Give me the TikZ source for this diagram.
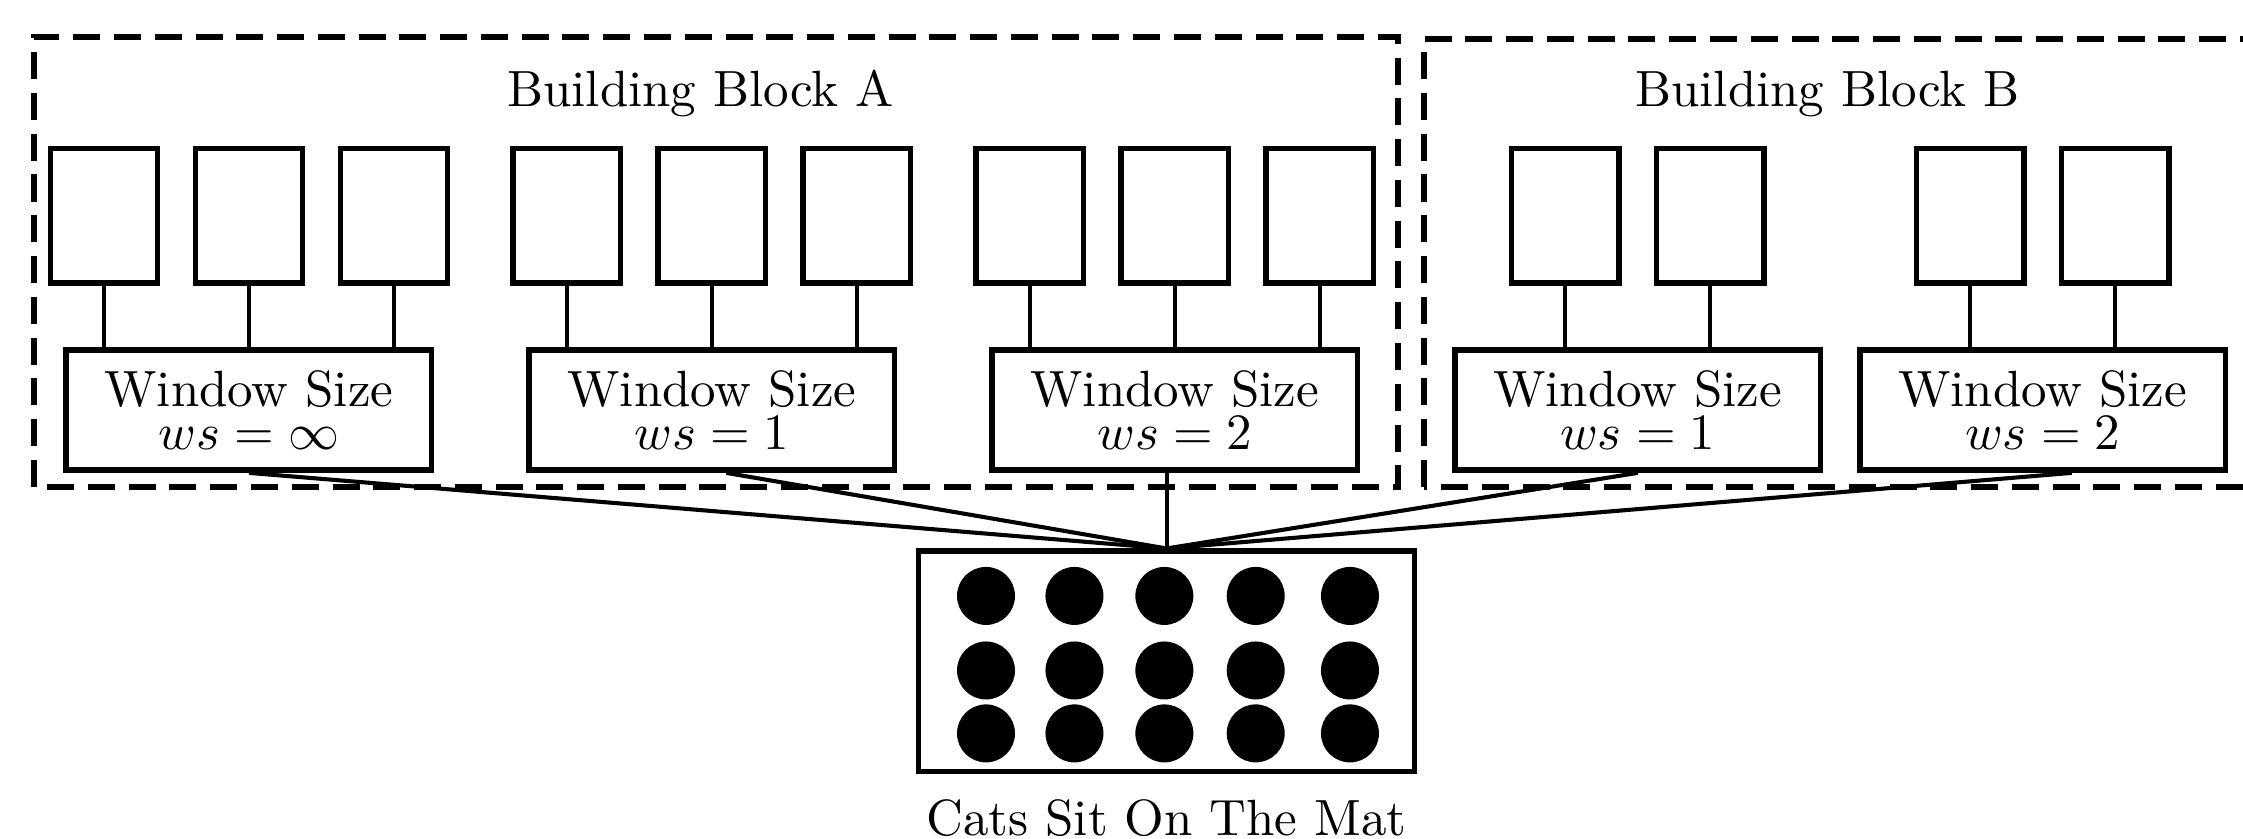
\documentclass[tikz,border=0pt]{standalone}
\usepackage{tikz}
\usetikzlibrary{positioning}

\begin{document}
\begin{tikzpicture}[line width=1.1pt,
  cell/.style={draw,minimum width=0.74cm,minimum height=0.93cm,inner sep=0pt},
  winbox/.style={draw,minimum width=2.52cm,minimum height=0.83cm,inner sep=0pt,align=center},
  frame/.style={dash pattern=on 5.3pt off 2.7pt},
  link/.style={line width=0.8pt}]
  \useasboundingbox (0,0) rectangle (15.469,5.786);
  \draw[frame] (0.234,2.428) rectangle (9.641,5.531);
  \draw[frame] (9.821,2.428) rectangle (15.6,5.517);
  \node[anchor=base] (titleA) at (4.831,5.048) {Building Block A};
  \node[anchor=base] (titleB) at (12.603,5.048) {Building Block B};
  \node[winbox] (w1) at (1.717,2.959) {Window Size\\[-3.6pt]$ws=\infty$};
  \node[winbox,right=0.634cm of w1] (w2) {Window Size\\[-3.6pt]$ws=1$};
  \node[winbox,right=0.634cm of w2] (w3) {Window Size\\[-3.6pt]$ws=2$};
  \node[winbox,right=0.634cm of w3] (w4) {Window Size\\[-3.6pt]$ws=1$};
  \node[winbox,right=0.234cm of w4] (w5) {Window Size\\[-3.6pt]$ws=2$};
  \foreach \w [count=\k] in {w1,w2,w3}
    \foreach \dx [count=\j] in {-1,0,1} {
      \node[cell,above=0.42cm of \w,xshift=\dx cm] (a\k\j) {};
      \draw[link] (a\k\j) -- (a\k\j |- \w.north);
    }
  \foreach \w [count=\k] in {w4,w5}
    \foreach \dx [count=\j] in {-0.5,0.5} {
      \node[cell,above=0.42cm of \w,xshift=\dx cm] (b\k\j) {};
      \draw[link] (b\k\j) -- (b\k\j |- \w.north);
    }
  \node[draw,minimum width=3.42cm,minimum height=1.52cm] (mat) at (8.045,1.224) {};
  \foreach \x in {6.80,7.41,8.03,8.66,9.31}
    \foreach \y in {1.676,1.162,0.728}
      \fill (\x,\y) circle (0.2);
  \node[below=1pt of mat] (sent) {Cats Sit On The Mat};
  \draw[link] (w1.south) -- (mat.north);
  \draw[link] ([xshift=1mm]w2.south) -- (mat.north);
  \draw[link] (mat.north |- w3.south) -- (mat.north);
  \draw[link] (w4.south) -- (mat.north);
  \draw[link] ([xshift=2mm]w5.south) -- (mat.north);
\end{tikzpicture}
\end{document}
